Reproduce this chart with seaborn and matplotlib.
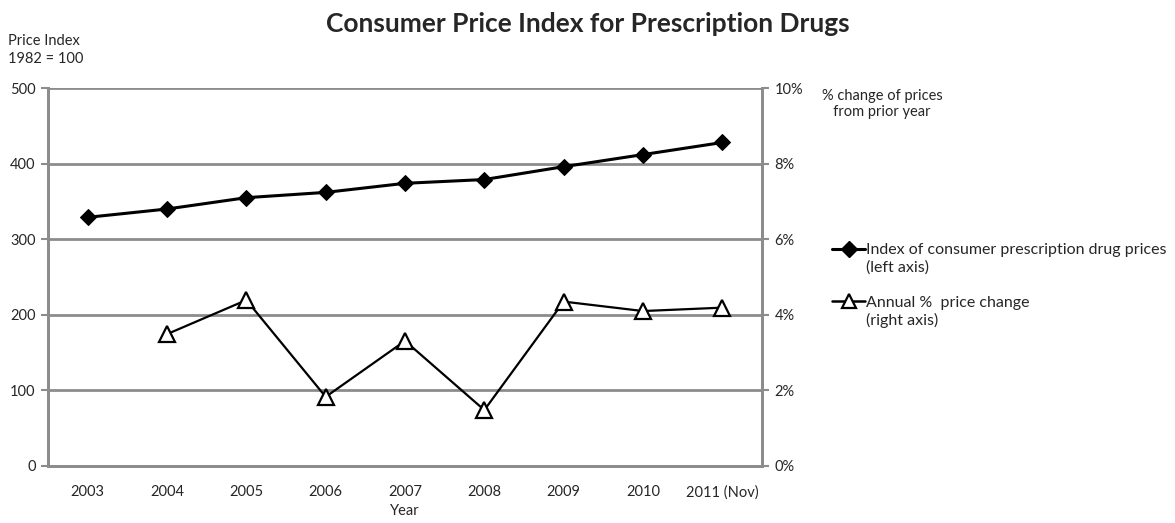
import numpy as np
import pandas as pd
import matplotlib
matplotlib.use("Agg")
import matplotlib.pyplot as plt
import seaborn as sns
from matplotlib.lines import Line2D

years = ["2003", "2004", "2005", "2006", "2007", "2008", "2009", "2010", "2011 (Nov)"]
price_index = [329, 340, 355, 362, 374, 379, 396, 412, 428]
pct_change = [np.nan, 3.49, 4.39, 1.83, 3.31, 1.48, 4.35, 4.10, 4.19]
left_ticks = [0, 100, 200, 300, 400, 500]
right_ticks = [0, 2, 4, 6, 8, 10]

sns.set_theme(style="white")
plt.rcParams["font.family"] = ["Lato", "DejaVu Sans"]

GRID = "#8c8c8c"
FS = 10.5
df = pd.DataFrame({"pos": np.arange(len(years)), "year": years,
                   "index": price_index, "pct": pct_change})

fig = plt.figure(figsize=(11.75, 5.23), dpi=100)
ax = fig.add_axes([0.0409, 0.109, 0.6076, 0.7226])

for v in left_ticks[1:]:
    ax.axhline(v, color=GRID, lw=2, zorder=0)

sns.lineplot(data=df, x="pos", y="index", ax=ax, color="black", lw=2.2,
             marker="D", markersize=8.5, markeredgecolor="black", zorder=3)

ax2 = ax.twinx()
sns.lineplot(data=df.dropna(), x="pos", y="pct", ax=ax2, color="black", lw=1.6,
             marker="^", markersize=11, markerfacecolor="white",
             markeredgecolor="black", markeredgewidth=1.6, zorder=3)

ax.set_xlim(-0.5, len(years) - 0.5)
ax.set_ylim(0, 500)
ax2.set_ylim(0, 10)
ax.set_yticks(left_ticks)
ax.set_yticklabels([str(v) for v in left_ticks])
ax2.set_yticks(right_ticks)
ax2.set_yticklabels([f"{v}%" for v in right_ticks])

ax.set_xticks(np.arange(-0.5, len(years), 1.0))
ax.set_xticklabels([])
ax.set_xticks(np.arange(len(years)), minor=True)
ax.set_xticklabels(years, minor=True)
ax.tick_params(axis="x", which="major", length=5, width=1.5, color=GRID, direction="out")
ax.tick_params(axis="x", which="minor", length=0, pad=14, labelsize=FS)
ax.tick_params(axis="y", length=5, width=1.5, color=GRID, direction="out", labelsize=FS, pad=4)
ax2.tick_params(axis="y", length=5, width=1.5, color=GRID, direction="out", labelsize=FS, pad=4)

for a in (ax, ax2):
    a.spines["top"].set_visible(False)
    for s in ("left", "right", "bottom"):
        a.spines[s].set_color(GRID)
        a.spines[s].set_linewidth(2)

ax.set_xlabel("Year", fontsize=FS, labelpad=3)
ax.set_ylabel("")
ax2.set_ylabel("")

fig.text(0.5, 0.955, "Consumer Price Index for Prescription Drugs", ha="center", va="center",
         fontsize=19, fontweight="bold")
fig.text(0.007, 0.921, "Price Index", ha="left", va="center", fontsize=FS)
fig.text(0.007, 0.888, "1982 = 100", ha="left", va="center", fontsize=FS)
fig.text(0.700, 0.801, "% change of prices\n   from prior year", ha="left", va="center",
         fontsize=FS, linespacing=1.25)

handles = [Line2D([], [], color="black", lw=2.2, marker="D", markersize=8),
           Line2D([], [], color="black", lw=1.8, marker="^", markersize=10,
                  markerfacecolor="white", markeredgewidth=1.6)]
labels = ["Index of consumer prescription drug prices", "Annual %  price change"]
fig.legend(handles, labels, loc="upper left", bbox_to_anchor=(0.708, 0.535), frameon=False,
           fontsize=11.5, handlelength=2.1, handletextpad=0.05, labelspacing=2.4,
           borderaxespad=0, borderpad=0)
fig.text(0.737, 0.488, "(left axis)", ha="left", va="center", fontsize=11.5)
fig.text(0.737, 0.387, "(right axis)", ha="left", va="center", fontsize=11.5)

fig.savefig("out.png", dpi=100)
